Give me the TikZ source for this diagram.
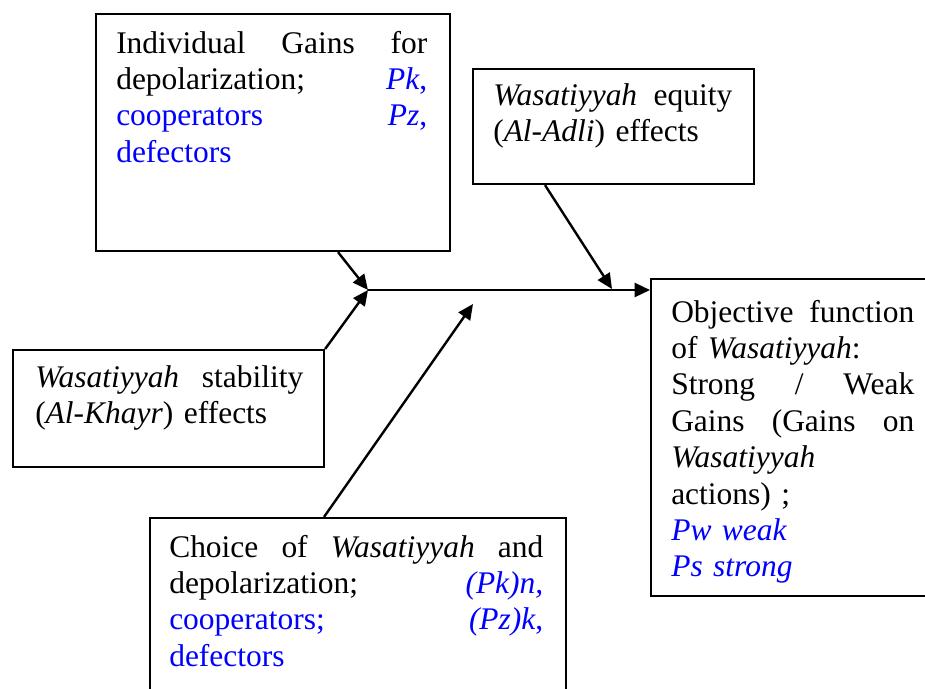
\documentclass[tikz,border=0pt]{standalone}
\usepackage{fontspec}
\setmainfont{Liberation Serif}
\usetikzlibrary{arrows.meta,calc}
\begin{document}
\begin{tikzpicture}[x=0.75pt,y=-0.75pt,
  box/.style={draw=black,line width=1.6pt,rectangle,anchor=north west,inner sep=0pt},
  txt/.style={anchor=base west,inner sep=0pt,align=left,font=\fontsize{23.6pt}{27.3pt}\selectfont},
  arr/.style={line width=1.8pt,-{Triangle[length=11.5pt,width=10.5pt]}}]
\useasboundingbox (0,0) rectangle (925,689);
\fill[white] (0,0) rectangle (925,689);
\clip (0,0) rectangle (925,689);
% boxes
\node[box,minimum width=354*0.75pt,minimum height=237*0.75pt] (A) at (95,13) {};
\node[box,minimum width=281*0.75pt,minimum height=115*0.75pt] (B) at (472,68) {};
\node[box,minimum width=311*0.75pt,minimum height=117*0.75pt] (C) at (12,349) {};
\node[box,minimum width=416*0.75pt,minimum height=200*0.75pt] (D) at (149,517) {};
\node[box,minimum width=300*0.75pt,minimum height=317*0.75pt] (E) at (650,278) {};
% texts
\node[txt,text width=311*0.75pt] (At) at (116,53) {Individual\hfill Gains\hfill for\\
depolarization;\hfill\textcolor{blue}{\textit{Pk},}\\
\textcolor{blue}{cooperators\hfill\textit{Pz},}\\
\textcolor{blue}{defectors}};
\node[txt,text width=239*0.75pt] (Bt) at (493,105) {\textit{Wasatiyyah}\hfill equity\\
(\textit{Al-Adli}) effects};
\node[txt,text width=268*0.75pt] (Ct) at (35,387) {\textit{Wasatiyyah}\hfill stability\\
(\textit{Al-Khayr}) effects};
\node[txt,text width=374*0.75pt] (Dt) at (169,557) {Choice\hfill of\hfill\textit{Wasatiyyah}\hfill and\\
depolarization;\hfill\textcolor{blue}{\textit{(Pk)n,}}\\
\textcolor{blue}{cooperators;\hfill\textit{(Pz)k},}\\
\textcolor{blue}{defectors}};
\node[txt,text width=243*0.75pt] (Et) at (671,322) {Objective\hfill function\\
of \textit{Wasatiyyah}:\\
Strong\hfill /\hfill Weak\\
Gains\hfill (Gains\hfill on\\
\textit{Wasatiyyah}\\
actions) ;\\
\textcolor{blue}{\textit{Pw weak}}\\
\textcolor{blue}{\textit{Ps strong}}};
% junction points
\coordinate (j0) at (368,290);
\coordinate (jB) at (612,289);
\coordinate (jD) at (473,304);
% connectors
\draw[arr] (j0) -- (j0 -| E.west);
\draw[arr] ($(A.south west)+(243,0)$) -- (j0);
\draw[arr] (C.north east) -- (j0);
\draw[arr] ($(B.south west)+(73,0)$) -- (jB);
\draw[arr] ($(D.north west)+(175,0)$) -- (jD);
\end{tikzpicture}
\end{document}
